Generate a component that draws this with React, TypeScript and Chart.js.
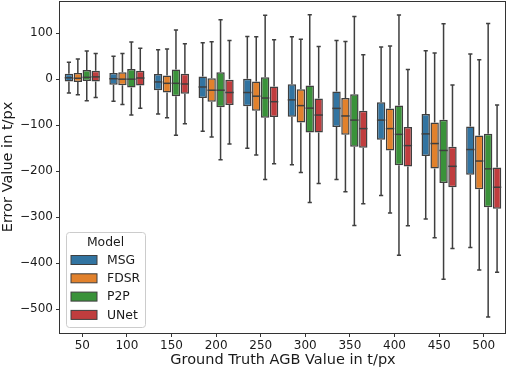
import React, { useEffect, useRef } from 'react';
import { Chart, registerables } from 'chart.js';

Chart.register(...registerables);

const categories = ['50', '100', '150', '200', '250', '300', '350', '400', '450', '500'];
const models = ['MSG', 'FDSR', 'P2P', 'UNet'];
const colors = ['#3274a1', '#e1812c', '#3a923a', '#c03d3e'];

// five-number summaries per category: [min, q1, median, q3, max]
const msgStats = [
  [-30, -5, 3, 12, 37],
  [-48, -12, 1, 13.5, 50],
  [-76, -24, -6, 11, 64],
  [-113, -41, -17, 6, 79],
  [-150, -59, -29, 1, 93],
  [-186, -81.5, -45, -11, 92],
  [-218, -104, -63.5, -27, 84],
  [-253, -131.5, -89, -50, 70],
  [-304, -167, -119, -76, 62],
  [-366, -208, -153, -103, 55],
];
const fdsrStats = [
  [-34, -6, 2, 13.5, 44],
  [-55, -13, 0, 15, 56],
  [-84, -29, -9, 8, 65.5],
  [-126, -49, -24, 2, 81.5],
  [-165, -68.5, -37, -5, 92],
  [-203, -94, -57.5, -22, 87],
  [-245, -121, -80, -41, 82],
  [-291, -155, -107.5, -64, 72],
  [-345, -194.5, -140, -94, 57],
  [-415, -239.5, -178, -122.5, 42],
];
const p2pStats = [
  [-47, -4, 4, 20, 61],
  [-78, -18, 0, 22, 81],
  [-122, -37, -9, 21, 107],
  [-175, -61, -24, 15, 129],
  [-218, -84, -41, 4, 139],
  [-268, -116, -63, -13.5, 140],
  [-318, -147, -89, -33, 136.5],
  [-383, -187, -120, -57, 139.5],
  [-435, -226, -155, -88, 120.5],
  [-517, -278.5, -195, -118.5, 121],
];
const unetStats = [
  [-40, -5, 5, 18.5, 56],
  [-63, -13.5, 2.5, 18.5, 67],
  [-97, -31.5, -10.5, 12, 77],
  [-141, -56, -29, 0, 84],
  [-184, -82, -49, -16, 86],
  [-227, -116, -78, -42, 71],
  [-271, -149, -107.5, -68.5, 53],
  [-318.5, -190, -144.5, -104, 21],
  [-368, -235, -189.5, -147, -12.5],
  [-420, -282, -235, -192, -56],
];
const allStats = [msgStats, fdsrStats, p2pStats, unetStats];

const yTickValues = [-500, -400, -300, -200, -100, 0, 100];
const yMin = -552;
const yMax = 170;

const FONT = 'DejaVu Sans';
const LINE = '#3f3f3f';
const TXT = '#1a1a1a';

const fmt = (v: number) => (v < 0 ? '\u2212' + Math.abs(v) : String(v));

const boxPlugin = {
  id: 'boxParts',
  beforeDatasetsDraw(chart: any) {
    const ctx = chart.ctx;
    const y = chart.scales.y;
    ctx.save();
    ctx.strokeStyle = LINE;
    ctx.lineWidth = 1.5;
    allStats.forEach((stats, di) => {
      const meta = chart.getDatasetMeta(di);
      meta.data.forEach((bar: any, j: number) => {
        const s = stats[j];
        const x = bar.x;
        const capHalf = bar.width / 4;
        const pMin = y.getPixelForValue(s[0]);
        const pQ1 = y.getPixelForValue(s[1]);
        const pQ3 = y.getPixelForValue(s[3]);
        const pMax = y.getPixelForValue(s[4]);
        ctx.beginPath();
        ctx.moveTo(x, pQ1);
        ctx.lineTo(x, pMin);
        ctx.moveTo(x, pQ3);
        ctx.lineTo(x, pMax);
        ctx.moveTo(x - capHalf, pMin);
        ctx.lineTo(x + capHalf, pMin);
        ctx.moveTo(x - capHalf, pMax);
        ctx.lineTo(x + capHalf, pMax);
        ctx.stroke();
      });
    });
    ctx.restore();
  },
  afterDatasetsDraw(chart: any) {
    const ctx = chart.ctx;
    const y = chart.scales.y;
    ctx.save();
    ctx.strokeStyle = LINE;
    ctx.lineWidth = 1.5;
    allStats.forEach((stats, di) => {
      const meta = chart.getDatasetMeta(di);
      meta.data.forEach((bar: any, j: number) => {
        const pMed = y.getPixelForValue(stats[j][2]);
        const half = bar.width / 2;
        ctx.beginPath();
        ctx.moveTo(bar.x - half, pMed);
        ctx.lineTo(bar.x + half, pMed);
        ctx.stroke();
      });
    });
    ctx.restore();
  },
  afterDraw(chart: any) {
    const ctx = chart.ctx;
    const a = chart.chartArea;
    ctx.save();
    // spines
    ctx.strokeStyle = '#333333';
    ctx.lineWidth = 1;
    ctx.strokeRect(Math.round(a.left) - 0.5, Math.round(a.top) + 0.5, Math.round(a.right - a.left), Math.round(a.bottom - a.top));
    // legend
    const lx = a.left + 6;
    const ly = a.bottom - 101;
    const lw = 79;
    const lh = 95;
    ctx.fillStyle = 'rgba(255,255,255,0.8)';
    ctx.strokeStyle = '#cccccc';
    ctx.lineWidth = 1;
    ctx.beginPath();
    (ctx as any).roundRect(lx + 0.5, ly + 0.5, lw, lh, 3);
    ctx.fill();
    ctx.stroke();
    ctx.font = `12.4px "${FONT}"`;
    ctx.fillStyle = TXT;
    ctx.textBaseline = 'middle';
    ctx.textAlign = 'center';
    ctx.fillText('Model', lx + lw / 2, ly + 10.5);
    ctx.textAlign = 'left';
    models.forEach((m, i) => {
      const cy = ly + 28 + i * 18.3;
      ctx.fillStyle = colors[i];
      ctx.fillRect(lx + 5, cy - 4.5, 26, 9);
      ctx.strokeStyle = LINE;
      ctx.lineWidth = 1;
      ctx.strokeRect(lx + 5, cy - 4.5, 26, 9);
      ctx.fillStyle = TXT;
      ctx.fillText(m, lx + 41, cy + 0.5);
    });
    ctx.restore();
  },
};

export default function App() {
  const ref = useRef<HTMLCanvasElement | null>(null);
  useEffect(() => {
    document.body.style.margin = '0';
    const canvas = ref.current;
    if (!canvas) return;
    const chart = new Chart(canvas, {
      type: 'bar',
      data: {
        labels: categories,
        datasets: models.map((m, i) => ({
          label: m,
          data: allStats[i].map((s) => [s[1], s[3]]) as any,
          backgroundColor: colors[i],
          borderColor: LINE,
          borderWidth: 1.5,
          borderSkipped: false,
          categoryPercentage: 0.8,
          barPercentage: 0.94,
        })),
      },
      options: {
        animation: false,
        responsive: false,
        devicePixelRatio: 1,
        layout: { padding: { top: 1, right: 1, left: 0, bottom: 0 } },
        plugins: { legend: { display: false }, tooltip: { enabled: false } },
        scales: {
          x: {
            type: 'category',
            offset: true,
            grid: { display: true, drawOnChartArea: false, drawTicks: true, tickLength: 4, color: '#333333', offset: false },
            border: { display: false },
            ticks: { color: TXT, font: { family: FONT, size: 12 }, padding: 2, maxRotation: 0 },
            title: { display: true, text: 'Ground Truth AGB Value in t/px', color: TXT, font: { family: FONT, size: 14.5 }, padding: { top: 0, bottom: 2 } },
            afterFit: (s: any) => { s.height = 38; s.paddingLeft = 0; s.paddingRight = 0; },
          },
          y: {
            type: 'linear',
            min: yMin,
            max: yMax,
            afterBuildTicks: (s: any) => { s.ticks = yTickValues.map((v) => ({ value: v })); },
            grid: { display: true, drawOnChartArea: false, drawTicks: true, tickLength: 4, color: '#333333' },
            border: { display: false },
            ticks: { color: TXT, font: { family: FONT, size: 12 }, padding: 3, callback: (v: any) => fmt(Number(v)) },
            title: { display: true, text: 'Error Value in t/px', color: TXT, font: { family: FONT, size: 14.5 }, padding: { top: 0, bottom: 0 } },
            afterFit: (s: any) => { s.width = 60; s.paddingTop = 0; s.paddingBottom = 0; },
          },
        },
      },
      plugins: [boxPlugin],
    });
    return () => chart.destroy();
  }, []);
  return (
    <div style={{ width: 507, height: 371 }}>
      <canvas ref={ref} width={507} height={371} style={{ display: 'block' }} />
    </div>
  );
}
